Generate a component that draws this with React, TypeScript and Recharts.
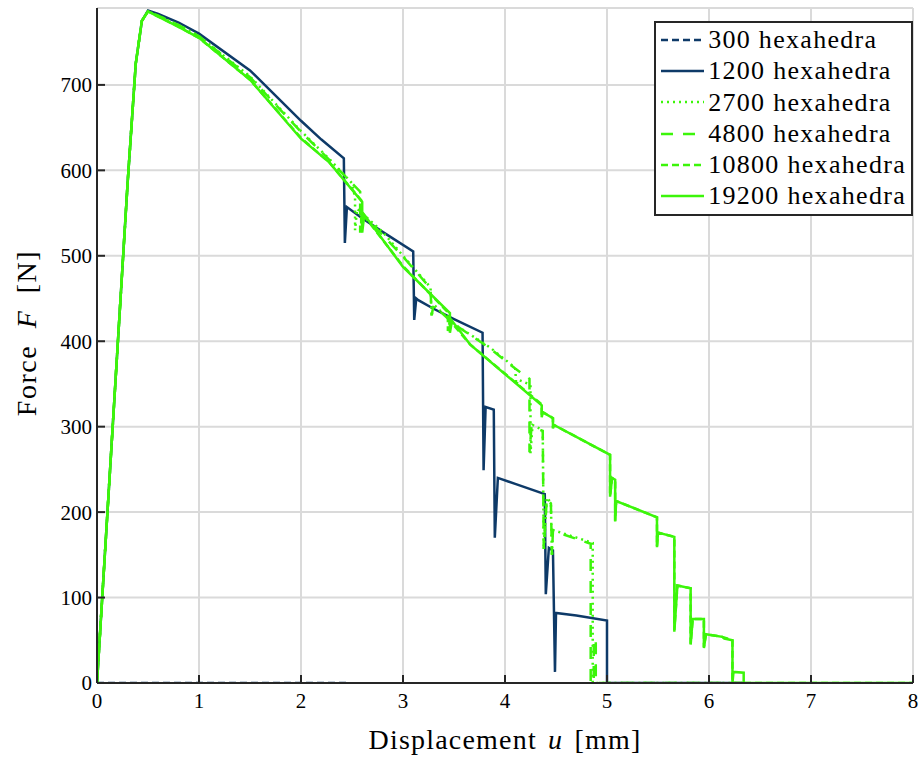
import { LineChart, Line, XAxis, YAxis, CartesianGrid } from 'recharts'

type Pt = { u: number; F: number }
const pts = (rows: number[][]): Pt[] => rows.map(([u, F]) => ({ u, F }))

const X_TICKS = [0, 1, 2, 3, 4, 5, 6, 7, 8]
const Y_TICKS = [0, 100, 200, 300, 400, 500, 600, 700]

const DARK = '#0e3a68'
const GREEN = '#3cf50a'

// 300 hexahedra: stays on zero
const hex300 = pts([[0, 0], [2.45, 0]])

const hex1200 = pts([
  [0, 0], [0.1, 195], [0.2, 390], [0.3, 585], [0.38, 725], [0.44, 775], [0.5, 787], [0.6, 783],
  [0.8, 773], [1.0, 760], [1.5, 717], [2.0, 658], [2.2, 636], [2.42, 614], [2.43, 515], [2.45, 557],
  [2.6, 544], [2.8, 528], [3.1, 505], [3.11, 425], [3.13, 450], [3.15, 448], [3.3, 438], [3.5, 426],
  [3.78, 410], [3.79, 249], [3.81, 323], [3.89, 320], [3.9, 170], [3.93, 240], [4.1, 233], [4.39, 221],
  [4.4, 104], [4.43, 158], [4.47, 155], [4.49, 13], [4.5, 82], [4.7, 79], [5.0, 73], [5.0, 0], [6.33, 0],
])

const hex2700 = pts([
  [0, 0], [0.1, 195], [0.2, 390], [0.3, 585], [0.38, 725], [0.44, 775], [0.5, 786], [0.6, 781],
  [0.8, 770], [1.0, 757], [1.5, 710], [2.0, 646], [2.28, 613], [2.5, 585], [2.53, 568], [2.53, 530],
  [2.55, 555], [2.8, 528], [3.0, 500], [3.27, 463], [3.28, 429], [3.3, 443], [3.5, 420], [3.85, 393],
  [4.1, 369], [4.11, 349], [4.13, 355], [4.25, 349], [4.25, 269], [4.27, 302], [4.37, 296], [4.38, 156],
  [4.41, 217], [4.45, 211], [4.46, 148], [4.47, 179], [4.86, 164], [4.86, 0], [6.33, 0],
])

const hex4800 = pts([
  [0, 0], [0.1, 195], [0.2, 390], [0.3, 585], [0.38, 725], [0.44, 775], [0.5, 786], [0.6, 781],
  [0.8, 770], [1.0, 757], [1.5, 709], [2.0, 645], [2.28, 612], [2.58, 575], [2.58, 527], [2.6, 550],
  [3.0, 499], [3.27, 462], [3.28, 430], [3.3, 442], [3.5, 420], [3.85, 392], [4.1, 368], [4.24, 356],
  [4.24, 270], [4.26, 300], [4.37, 295], [4.38, 157], [4.41, 216], [4.45, 210], [4.46, 150], [4.47, 178],
  [4.84, 163], [4.84, 0], [4.87, 0], [4.87, 52], [4.89, 50], [4.89, 0], [6.33, 0],
])

const hex10800 = pts([
  [0, 0], [0.1, 195], [0.2, 390], [0.3, 585], [0.38, 725], [0.44, 775], [0.5, 786], [0.6, 780],
  [0.8, 768], [1.0, 755], [1.5, 706], [2.0, 638], [2.28, 609], [2.59, 565], [2.59, 528], [2.61, 548],
  [3.0, 488], [3.44, 434], [3.44, 412], [3.46, 424], [3.66, 396], [4.36, 326], [4.36, 312], [4.37, 317],
  [4.47, 310], [4.47, 299], [4.48, 302], [5.03, 267], [5.03, 219], [5.05, 240], [5.08, 238], [5.08, 190],
  [5.09, 213], [5.49, 194], [5.49, 160], [5.5, 176], [5.66, 171], [5.66, 62], [5.69, 114], [5.82, 111],
  [5.82, 46], [5.84, 75], [5.95, 75], [5.95, 42], [5.97, 57], [6.13, 54], [6.23, 50], [6.23, 0], [8, 0],
])

const hex19200 = pts([
  [0, 0], [0.1, 195], [0.2, 390], [0.3, 585], [0.38, 725], [0.44, 775], [0.5, 786], [0.6, 780],
  [0.8, 768], [1.0, 755], [1.5, 706], [2.0, 637], [2.28, 609], [2.6, 563], [2.6, 527], [2.62, 548],
  [3.0, 487], [3.46, 433], [3.46, 410], [3.48, 424], [3.66, 396], [4.36, 325], [4.36, 311], [4.37, 317],
  [4.47, 310], [4.47, 298], [4.48, 302], [5.03, 267], [5.03, 218], [5.05, 240], [5.08, 238], [5.08, 189],
  [5.09, 213], [5.49, 194], [5.49, 159], [5.5, 176], [5.66, 171], [5.66, 60], [5.69, 114], [5.82, 111],
  [5.82, 45], [5.84, 75], [5.95, 75], [5.95, 41], [5.97, 57], [6.13, 54], [6.15, 52], [6.23, 50],
  [6.23, 0], [6.24, 13], [6.34, 12], [6.34, 0], [8, 0],
])

const SERIES = [
  { name: '300 hexahedra', data: hex300, color: DARK, dash: '7 4' },
  { name: '1200 hexahedra', data: hex1200, color: DARK, dash: undefined },
  { name: '2700 hexahedra', data: hex2700, color: GREEN, dash: '2 4' },
  { name: '4800 hexahedra', data: hex4800, color: GREEN, dash: '12 10' },
  { name: '10800 hexahedra', data: hex10800, color: GREEN, dash: '7 4' },
  { name: '19200 hexahedra', data: hex19200, color: GREEN, dash: undefined },
]

const FONT = '"Liberation Serif", "Times New Roman", serif'
const TICK = { fontSize: 21, fill: '#000' }
const FRAME = { stroke: '#262626', strokeWidth: 2 }

function LegendBox() {
  return (
    <div
      style={{
        position: 'absolute',
        top: 21,
        right: 11,
        border: '2px solid #262626',
        background: '#fff',
        padding: '1px 5px 2px 5px',
        fontSize: 26,
        lineHeight: '31.3px',
      }}
    >
      {SERIES.map(s => (
        <div key={s.name} style={{ display: 'flex', alignItems: 'center', whiteSpace: 'nowrap' }}>
          <svg width={43} height={10} style={{ marginRight: 4 }}>
            <line x1={0} y1={5} x2={43} y2={5} stroke={s.color} strokeWidth={2.5} strokeDasharray={s.dash} />
          </svg>
          <span style={{ letterSpacing: 1.3 }}>{s.name}</span>
        </div>
      ))}
    </div>
  )
}

export default function App() {
  return (
    <div
      style={{
        position: 'absolute',
        left: 0,
        top: 0,
        width: 924,
        height: 760,
        background: '#fff',
        fontFamily: FONT,
      }}
    >
      <LineChart width={924} height={760} margin={{ top: 8, right: 11, bottom: 0, left: 0 }}>
        <CartesianGrid stroke="#dadada" strokeWidth={2} />
        <XAxis
          type="number"
          dataKey="u"
          domain={[0, 8]}
          ticks={X_TICKS}
          height={77}
          allowDataOverflow
          tick={TICK}
          tickSize={-8}
          tickMargin={18}
          axisLine={FRAME}
          tickLine={FRAME}
        />
        <XAxis
          xAxisId="top"
          orientation="top"
          type="number"
          dataKey="u"
          domain={[0, 8]}
          ticks={X_TICKS}
          height={0}
          tickFormatter={() => ''}
          tickSize={-8}
          axisLine={FRAME}
          tickLine={FRAME}
        />
        <YAxis
          type="number"
          domain={[0, 790]}
          ticks={Y_TICKS}
          width={97}
          allowDataOverflow
          tick={TICK}
          tickSize={-8}
          tickMargin={13}
          axisLine={FRAME}
          tickLine={FRAME}
        />
        <YAxis
          yAxisId="right"
          orientation="right"
          type="number"
          domain={[0, 790]}
          ticks={Y_TICKS}
          width={0}
          tickFormatter={() => ''}
          tickSize={-8}
          axisLine={FRAME}
          tickLine={FRAME}
        />
        {SERIES.map(s => (
          <Line
            key={s.name}
            data={s.data}
            dataKey="F"
            name={s.name}
            type="linear"
            stroke={s.color}
            strokeWidth={2.5}
            strokeDasharray={s.dash}
            dot={false}
            isAnimationActive={false}
          />
        ))}
      </LineChart>
      <LegendBox />
      <div
        style={{
          position: 'absolute',
          left: 0,
          width: 924,
          top: 724,
          paddingLeft: 97,
          paddingRight: 11,
          boxSizing: 'border-box',
          textAlign: 'center',
          fontSize: 28,
          letterSpacing: 1.2,
          wordSpacing: 3,
          whiteSpace: 'nowrap',
        }}
      >
        Displacement <i>u</i> [mm]
      </div>
      <div
        style={{
          position: 'absolute',
          left: 27,
          top: 333,
          transform: 'translate(-50%, -50%) rotate(-90deg)',
          fontSize: 28,
          letterSpacing: 1.5,
          wordSpacing: 8,
          whiteSpace: 'nowrap',
        }}
      >
        Force <i>F</i> [N]
      </div>
    </div>
  )
}
